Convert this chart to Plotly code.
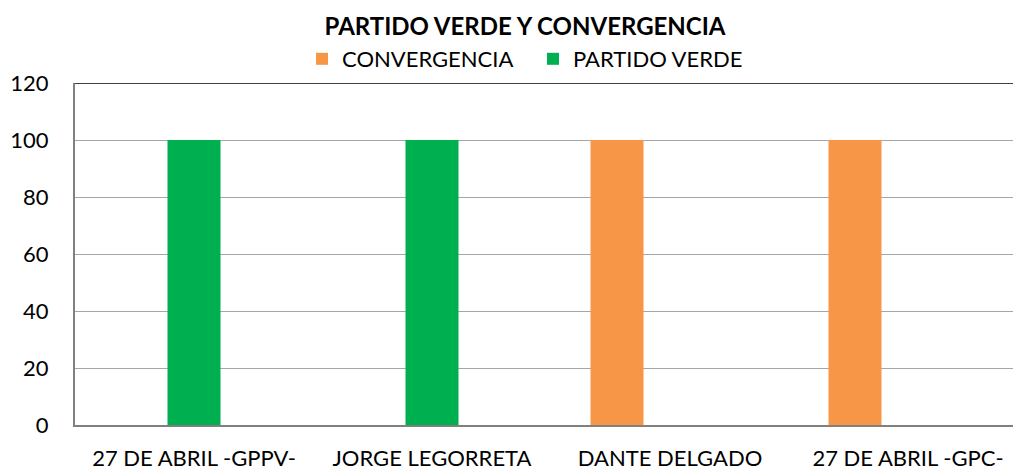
import plotly.graph_objects as go

categories = ["27 DE ABRIL -GPPV-", "JORGE LEGORRETA", "DANTE DELGADO", "27 DE ABRIL -GPC-"]
convergencia = [0, 0, 100, 100]
partido_verde = [100, 100, 0, 0]
blank = [0, 0, 0, 0]  # empty third series, keeps Excel's 3-slot grouping

fig = go.Figure()
fig.add_traces([
    go.Bar(x=categories, y=convergencia, name="CONVERGENCIA",
           marker={"color": "#F79646", "line": {"width": 0}}),
    go.Bar(x=categories, y=partido_verde, name="PARTIDO VERDE",
           marker={"color": "#00B050", "line": {"width": 0}}),
    go.Bar(x=categories, y=blank, name="", showlegend=False,
           marker={"color": "#FFFFFF", "line": {"width": 0}}),
])

font = "Lato, 'Open Sans', sans-serif"
fig.update_layout(
    width=1013, height=469,
    margin={"l": 75, "r": 0, "t": 83, "b": 44, "autoexpand": False},
    paper_bgcolor="white", plot_bgcolor="white",
    font={"family": font, "size": 22, "color": "black"},
    title={"text": "<b>PARTIDO VERDE Y CONVERGENCIA</b>", "x": 525/1013, "xanchor": "center",
           "y": 1 - 27/469, "yanchor": "middle", "font": {"size": 24}},
    barmode="group", bargap=0.332, bargroupgap=0,
    legend={"orientation": "h", "xref": "container", "yref": "container",
            "x": 302/1013, "xanchor": "left", "y": 1 - 59/469, "yanchor": "middle",
            "font": {"size": 22}, "itemwidth": 30, "traceorder": "normal",
            "entrywidth": 186, "entrywidthmode": "pixels"},
    xaxis={"range": [-0.5, -0.5 + 938/238], "showline": True, "linecolor": "#808080",
           "linewidth": 2, "ticks": "", "ticklabelstandoff": 13, "automargin": False},
    yaxis={"range": [0, 120], "dtick": 20, "showgrid": True, "gridcolor": "#A6A6A6",
           "gridwidth": 1, "zeroline": False, "showline": True, "linecolor": "#808080",
           "linewidth": 2, "ticks": "", "ticklabelstandoff": 20, "automargin": False},
    shapes=[{"type": "line", "xref": "paper", "x0": 0, "x1": 1, "yref": "y",
             "y0": 120, "y1": 120, "line": {"color": "black", "width": 1.5}}],
)

fig.write_html("out.html", config={"displayModeBar": False},
               post_script="document.body.style.margin='0';")
